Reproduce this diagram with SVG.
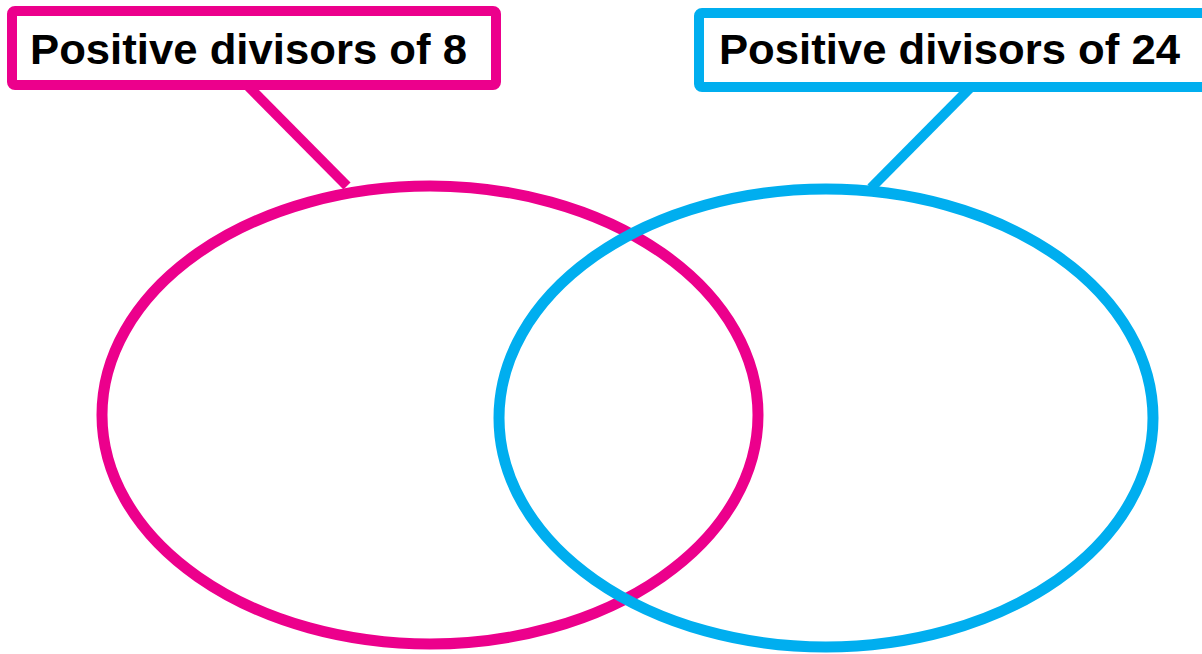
<svg xmlns="http://www.w3.org/2000/svg" width="1202" height="654" viewBox="0 0 1202 654">
<style>
.pink{stroke:#EC008C;fill:none}
.blue{stroke:#00AEEF;fill:none}
.box{fill:#fff;stroke-width:10}
.lbl{font-family:"Liberation Sans",Arial,sans-serif;font-weight:bold;font-size:43px;fill:#000}
</style>
<rect width="1202" height="654" fill="#fff"/>
<g id="connectors">
<line class="pink" x1="248" y1="86" x2="347" y2="186" stroke-width="10"/>
<line class="blue" x1="970" y1="88" x2="871" y2="188" stroke-width="10"/>
</g>
<g id="set8">
<ellipse class="pink" cx="430" cy="415" rx="328" ry="229" stroke-width="11"/>
</g>
<g id="set24">
<ellipse class="blue" cx="826" cy="418" rx="327" ry="229" stroke-width="11"/>
</g>
<g id="label8">
<rect class="pink box" x="12" y="11" width="484" height="74" rx="3"/>
<text class="lbl" x="30" y="64" textLength="437" lengthAdjust="spacingAndGlyphs">Positive divisors of 8</text>
</g>
<g id="label24">
<rect class="blue box" x="699" y="13" width="520" height="74" rx="3"/>
<text class="lbl" x="719" y="64" textLength="461" lengthAdjust="spacingAndGlyphs">Positive divisors of 24</text>
</g>
</svg>
